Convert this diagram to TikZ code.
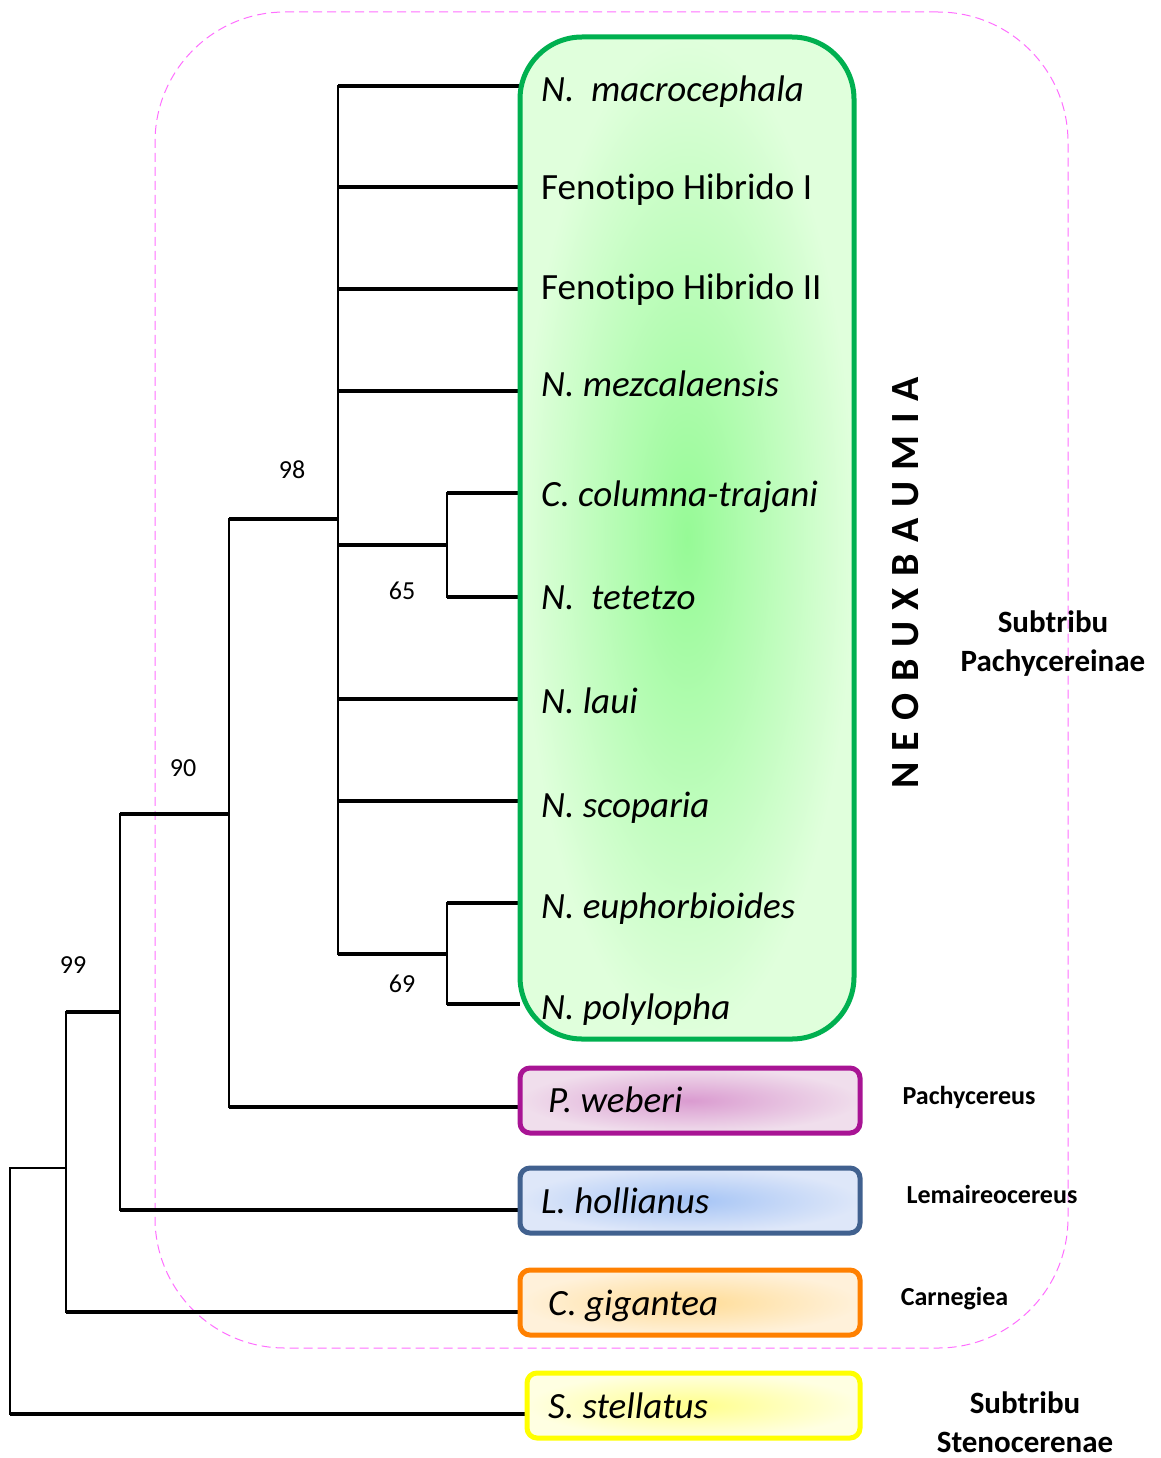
\documentclass[tikz,border=0pt]{standalone}
\usepackage{fontspec}
\setmainfont[Ligatures=NoCommon]{Carlito}
\newfontfamily\spacedfont[LetterSpace=29]{Carlito}
\definecolor{gborder}{RGB}{0,176,80}
\definecolor{gin}{RGB}{150,250,150}
\definecolor{gout}{RGB}{224,255,220}
\definecolor{pborder}{RGB}{168,20,148}
\definecolor{pin}{RGB}{218,155,208}
\definecolor{pout}{RGB}{240,222,236}
\definecolor{bborder}{RGB}{65,97,143}
\definecolor{bin}{RGB}{165,196,245}
\definecolor{bout}{RGB}{222,231,249}
\definecolor{oborder}{RGB}{255,128,0}
\definecolor{oin}{RGB}{255,220,150}
\definecolor{oout}{RGB}{255,241,218}
\definecolor{yborder}{RGB}{255,255,0}
\definecolor{yin}{RGB}{255,255,140}
\definecolor{yout}{RGB}{255,255,226}
\definecolor{dashpink}{RGB}{255,110,255}
\tikzset{
  hline/.style={line width=3.5pt},
  hthin/.style={line width=1.6pt},
  vline/.style={line width=1.6pt, line cap=rect},
  sp/.style={anchor=base west, inner sep=0pt, font=\fontsize{37}{42}\selectfont\itshape},
  spr/.style={anchor=base west, inner sep=0pt, font=\fontsize{37}{42}\selectfont},
  bs/.style={inner sep=0pt, font=\fontsize{26}{30}\selectfont},
  gen/.style={anchor=base, inner sep=0pt, font=\fontsize{26}{30}\selectfont\bfseries},
  sub/.style={inner sep=0pt, align=center, font=\fontsize{31}{39}\selectfont\bfseries},
  box/.style={draw, line width=5pt, rounded corners=10pt, inner sep=0pt},
}
\begin{document}
\begin{tikzpicture}[x=1pt,y=-1pt]
\useasboundingbox (0,0) rectangle (1161,1458);
% dashed subtribe frame
\node[draw=dashpink, line width=1pt, dash pattern=on 9pt off 5pt, rounded corners=130pt,
      minimum width=913pt, minimum height=1336pt, inner sep=0pt] (frame) at (611.5,680) {};
% leaf end points
\coordinate (L1) at (520,86);
\coordinate (L2) at (520,187);
\coordinate (L3) at (520,289);
\coordinate (L4) at (520,391);
\coordinate (L5) at (520,493);
\coordinate (L6) at (520,597);
\coordinate (L7) at (520,699);
\coordinate (L8) at (520,801);
\coordinate (L9) at (520,903);
\coordinate (L10) at (520,1004);
\coordinate (L11) at (520,1107);
\coordinate (L12) at (520,1210);
\coordinate (L13) at (520,1312);
\coordinate (L14) at (527,1414);
% internal nodes
\coordinate (A) at (447,545);
\coordinate (B) at (447,954);
\coordinate (C) at (338,519);
\coordinate (D) at (229,814);
\coordinate (E) at (120,1012);
\coordinate (F) at (66,1168);
\coordinate (G) at (10,1168);
% verticals
\draw[vline] (A |- L5) -- (A |- L6);
\draw[vline] (B |- L9) -- (B |- L10);
\draw[vline] (C |- L1) -- (C |- B);
\draw[vline] (D |- C) -- (D |- L11);
\draw[vline] (E |- D) -- (E |- L12);
\draw[vline] (F |- E) -- (F |- L13);
\draw[vline] (G) -- (G |- L14);
% horizontals
\foreach \l in {L1,L2,L3,L4,L7,L8} \draw[hline] (C |- \l) -- (\l);
\draw[hline] (A |- L5) -- (L5);
\draw[hline] (A |- L6) -- (L6);
\draw[hline] (B |- L9) -- (L9);
\draw[hline] (B |- L10) -- (L10);
\draw[hline] (C |- A) -- (A);
\draw[hline] (C |- B) -- (B);
\draw[hline] (D |- C) -- (C);
\draw[hline] (D |- L11) -- (L11);
\draw[hline] (E |- D) -- (D);
\draw[hline] (E |- L12) -- (L12);
\draw[hline] (F |- E) -- (E);
\draw[hline] (F |- L13) -- (L13);
\draw[hthin] (G) -- (F);
\draw[hline] (G |- L14) -- (L14);
% boxes
\node[box, draw=gborder, inner color=gin, outer color=gout, rounded corners=62pt,
      minimum width=334pt, minimum height=1002pt] (gbox) at (687,538) {};
\node[box, draw=pborder, inner color=pin, outer color=pout,
      minimum width=340pt, minimum height=65pt] (pbox) at (690,1100.5) {};
\node[box, draw=bborder, inner color=bin, outer color=bout,
      minimum width=340pt, minimum height=65pt] (bbox) at (690,1200.5) {};
\node[box, draw=oborder, inner color=oin, outer color=oout,
      minimum width=340pt, minimum height=65pt] (obox) at (690,1302.5) {};
\node[box, draw=yborder, inner color=yin, outer color=yout,
      minimum width=333pt, minimum height=65pt] (ybox) at (693.5,1405.5) {};
% species labels
\node[sp] (t1) at (541,101.5) {N.\ \ macrocephala};
\node[spr] (t2) at (541,200) {Fenotipo Hibrido I};
\node[spr] (t3) at (541,299) {Fenotipo Hibrido II};
\node[sp] (t4) at (541,396) {N. mezcalaensis};
\node[sp] (t5) at (541,506) {C. columna-trajani};
\node[sp] (t6) at (541,609) {N.\ \ tetetzo};
\node[sp] (t7) at (541,713) {N. laui};
\node[sp] (t8) at (541,817) {N. scoparia};
\node[sp] (t9) at (541,918) {N. euphorbioides};
\node[sp] (t10) at (541,1019) {N. polylopha};
\node[sp] (t11) at (548,1112) {P. weberi};
\node[sp] (t12) at (541,1213) {L. hollianus};
\node[sp] (t13) at (548,1315) {C. gigantea};
\node[sp] (t14) at (548,1418) {S. stellatus};
% bootstrap values
\node[bs] (b98) at (292,470) {98};
\node[bs] (b65) at (402,591) {65};
\node[bs] (b69) at (402,984) {69};
\node[bs] (b90) at (183,768) {90};
\node[bs] (b99) at (73,965) {99};
% group labels
\node[rotate=90, inner sep=0pt, font=\fontsize{40}{44}\selectfont\spacedfont\bfseries] (neo) at (906,583) {NEOBUXBAUMIA};
\node[sub] (subP) at (1053,644) {Subtribu\\Pachycereinae};
\node[gen] (gP) at (969,1104.5) {Pachycereus};
\node[gen] (gL) at (992,1203.5) {Lemaireocereus};
\node[gen] (gC) at (954.5,1305.5) {Carnegiea};
\node[sub] (subS) at (1025,1422) {Subtribu\\Stenocerenae};
\end{tikzpicture}
\end{document}
